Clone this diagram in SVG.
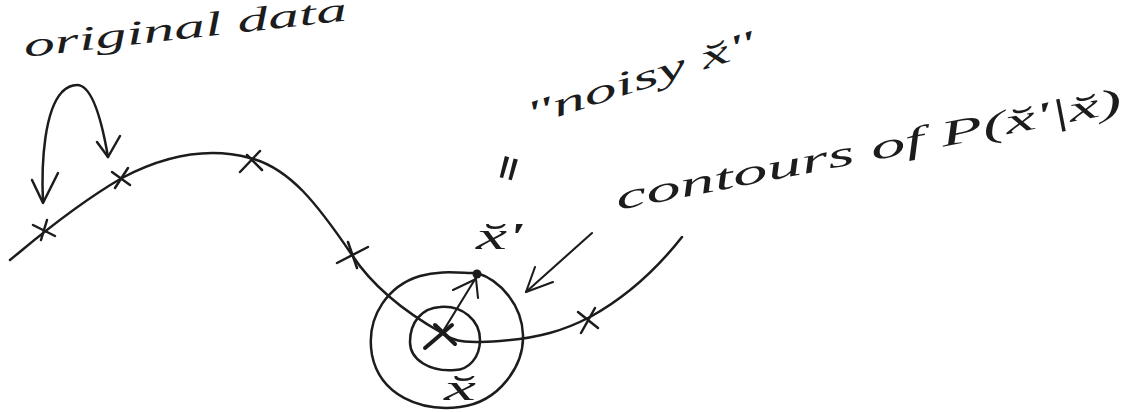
<svg xmlns="http://www.w3.org/2000/svg" width="1135" height="412" viewBox="0 0 1135 412">
<style>
.ink{fill:none;stroke:#1c1c1c;stroke-width:2.5;stroke-linecap:round;stroke-linejoin:round}
.thin{stroke-width:2.1}
.heavy{stroke-width:4}
.hand{font-family:"Liberation Serif","DejaVu Serif",serif;font-style:italic;fill:#1c1c1c}
</style>
<rect width="1135" height="412" fill="#ffffff"/>

<g id="label-original-data">
<text class="hand" font-size="34" transform="translate(25,57) rotate(-6.5)" textLength="325" lengthAdjust="spacingAndGlyphs">original data</text>
</g>

<g id="data-curve">
<path class="ink" d="M10,260 C25,248 70,208 122,178 C160,158 205,146 250,158 C290,168 318,205 352,255 C375,290 410,315 442,333 C455,343 470,343 500,341 C540,338 565,330 590,317 C630,295 660,265 682,237"/>
</g>

<g id="data-points">
<path class="ink" d="M33,225 L55,236 M47,220 L41,240"/>
<path class="ink" d="M112,172 L130,185 M128,168 L115,188"/>
<path class="ink" d="M240,172 L260,151 M247,155 L262,170"/>
<path class="ink" d="M337,263 L368,247 M348,242 L357,268"/>
<path class="ink heavy" d="M425,348 L452,325 M435,325 L455,344"/>
<path class="ink" d="M578,312 L598,328 M595,308 L581,333"/>
</g>

<g id="contours">
<path class="ink" d="M477,273 C500,280 522,305 523,335 C524,365 500,402 460,407 C420,412 380,395 372,355 C365,315 390,285 420,276 C440,270 460,273 477,273 Z"/>
<path class="ink" d="M440,307 C462,305 480,320 480,340 C480,358 468,370 455,370 C430,372 410,360 410,342 C410,322 422,308 440,307 Z"/>
<circle cx="477" cy="274" r="4.5" fill="#1c1c1c"/>
</g>

<g id="label-noisy">
<text class="hand" font-size="34" transform="translate(530,126) rotate(-18)" textLength="240" lengthAdjust="spacingAndGlyphs">"noisy x̆"</text>
</g>

<g id="label-contours">
<text class="hand" font-size="36" transform="translate(618,210) rotate(-11)" textLength="515" lengthAdjust="spacingAndGlyphs">contours of P(x̆'|x̆)</text>
</g>

<g id="label-x-prime">
<text style="font-family:'Liberation Sans',sans-serif;fill:#1c1c1c" font-size="100" transform="translate(485,222) rotate(15) scale(0.5,1)">"</text>
<text class="hand" font-size="38" x="476" y="249" textLength="46" lengthAdjust="spacingAndGlyphs">x̆'</text>
</g>

<g id="label-x">
<text class="hand" font-size="36" x="444" y="400" textLength="32" lengthAdjust="spacingAndGlyphs">x̆</text>
</g>

<g id="connectors">
<path class="ink" d="M43,202 C41,160 45,110 62,92 C68,86 72,85 77,85 C90,85 100,110 108,157"/>
<path class="ink" d="M32,180 L43,203 L58,173"/>
<path class="ink" d="M97,142 L108,157 L120,136"/>
<path class="ink thin" d="M442,333 L477,276"/>
<path class="ink thin" d="M453,290 L476,279 L478,298"/>
<path class="ink thin" d="M592,233 L526,292"/>
<path class="ink thin" d="M535,267 L526,292 L553,282"/>
</g>
</svg>
